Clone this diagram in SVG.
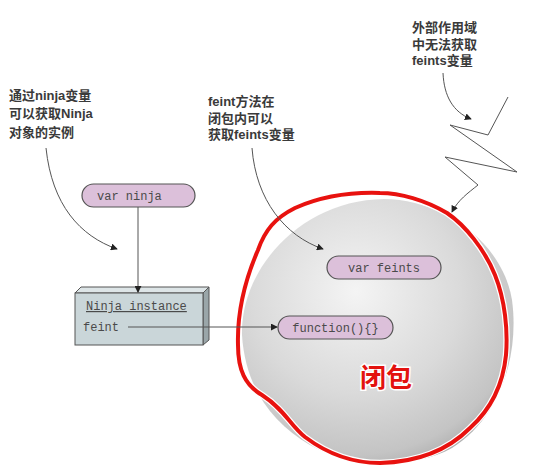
<svg xmlns="http://www.w3.org/2000/svg" width="536" height="472" viewBox="0 0 536 472">
<defs>
<style>
.lbl{font-family:"Liberation Sans","Noto Sans CJK SC",sans-serif;font-size:13px;font-weight:bold;fill:#3a3a3a}
.mono{font-family:"Liberation Mono","DejaVu Sans Mono",monospace;font-size:12px;fill:#4a4a4a}
.pill{fill:#dcc0da;stroke:#555;stroke-width:1.2}
.con{fill:none;stroke:#555;stroke-width:1}
</style>
<marker id="ah" viewBox="0 0 8 8" refX="7" refY="4" markerWidth="7" markerHeight="7" markerUnits="userSpaceOnUse" orient="auto">
<path d="M0,0 L8,4 L0,8 z" fill="#222"/>
</marker>
<radialGradient id="sph" cx="0.42" cy="0.35" r="0.7">
<stop offset="0" stop-color="#f4f4f4"/>
<stop offset="0.55" stop-color="#dadada"/>
<stop offset="0.88" stop-color="#c4c4c4"/>
<stop offset="1" stop-color="#aeaeae"/>
</radialGradient>
</defs>
<rect width="536" height="472" fill="#fff"/>

<g id="closure">
<path d="M384,199 C440,199 502,240 512,300 C520,360 497,420 452,448 C412,470 350,468 310,445 C270,422 245,385 242,335 C240,270 300,200 384,199 Z" fill="url(#sph)"/>
<path d="M380,193 C400,193 425,200 447,213 C465,225 485,250 495,275 C505,300 508,330 506,355 C503,385 490,410 470,428 C450,448 420,462 380,463 C350,463 325,452 305,437 C290,425 285,410 262,395 C245,385 238,370 238,345 C237,310 245,280 258,250 C265,230 275,218 295,208 C320,197 350,192 380,193 Z" fill="none" stroke="#fff" stroke-width="6.5"/>
<path d="M380,193 C400,193 425,200 447,213 C465,225 485,250 495,275 C505,300 508,330 506,355 C503,385 490,410 470,428 C450,448 420,462 380,463 C350,463 325,452 305,437 C290,425 285,410 262,395 C245,385 238,370 238,345 C237,310 245,280 258,250 C265,230 275,218 295,208 C320,197 350,192 380,193 Z" fill="none" stroke="#e8120f" stroke-width="4"/>
<text x="386" y="387" text-anchor="middle" font-family="'Noto Sans CJK SC',sans-serif" font-size="26" font-weight="bold" fill="#e3120f" stroke="#fff" stroke-width="3" paint-order="stroke">闭包</text>
</g>

<g id="label-ninja">
<text class="lbl" x="9" y="100">通过ninja变量</text>
<text class="lbl" x="9" y="118">可以获取Ninja</text>
<text class="lbl" x="9" y="137">对象的实例</text>
</g>
<g id="label-feint">
<text class="lbl" x="208" y="106">feint方法在</text>
<text class="lbl" x="208" y="123">闭包内可以</text>
<text class="lbl" x="208" y="139">获取feints变量</text>
</g>
<g id="label-outer">
<text class="lbl" x="412" y="32">外部作用域</text>
<text class="lbl" x="412" y="49">中无法获取</text>
<text class="lbl" x="412" y="65">feints变量</text>
</g>

<g id="var-ninja">
<rect class="pill" x="82" y="184" width="113" height="23" rx="11.5"/>
<text class="mono" x="97" y="200">var ninja</text>
</g>

<g id="ninja-instance">
<polygon points="75,293 81,287 209,287 203,293" fill="#dde5e7" stroke="#555" stroke-width="1"/>
<polygon points="203,293 209,287 209,340 203,345" fill="#9aa6a9" stroke="#555" stroke-width="1"/>
<rect x="75" y="293" width="128" height="52" fill="#cad6d9" stroke="#555" stroke-width="1"/>
<text class="mono" x="86" y="310" text-decoration="underline">Ninja instance</text>
<text class="mono" x="83" y="331">feint</text>
</g>

<g id="var-feints">
<rect class="pill" x="327" y="256" width="114" height="23" rx="11.5"/>
<text class="mono" x="384" y="272" text-anchor="middle">var feints</text>
</g>

<g id="function">
<rect class="pill" x="278" y="316" width="115" height="23" rx="11.5"/>
<text class="mono" x="335.5" y="332" text-anchor="middle">function(){}</text>
</g>

<g id="connectors">
<path class="con" d="M46,148 C52,205 80,236 117,249" marker-end="url(#ah)"/>
<path class="con" d="M252,148 C256,200 285,236 323,249" marker-end="url(#ah)"/>
<path class="con" d="M443,73 C444,96 453,112 471,119" marker-end="url(#ah)"/>
<path class="con" d="M508,97 L488,135 L450,125 L517,172 L445,157 L478,185 C468,193 458,200 452,212" marker-end="url(#ah)"/>
<path class="con" d="M138,207 L138,292" marker-end="url(#ah)"/>
<path class="con" d="M128,327 L277,327" marker-end="url(#ah)"/>
</g>
</svg>
